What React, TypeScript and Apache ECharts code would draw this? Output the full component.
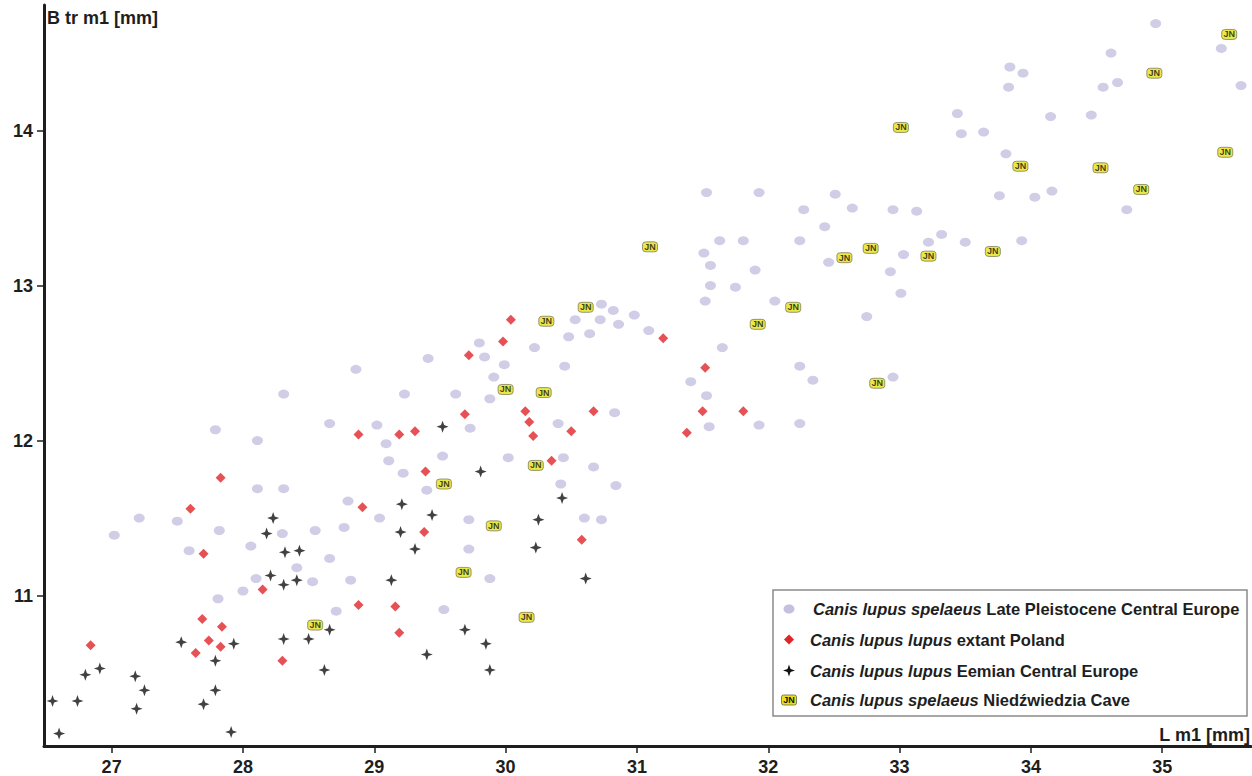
import React, { useEffect, useRef } from "react";
import * as echarts from "echarts";

// ---- axis ticks / extents ----
const xTicks = [27, 28, 29, 30, 31, 32, 33, 34, 35];
const yTicks = [11, 12, 13, 14];
const xMin = 26.485;
const xMax = 35.676;
const yMin = 10.03;
const yMax = 14.81;

const xTitle = "L m1 [mm]";
const yTitle = "B tr m1 [mm]";

// ---- series names ----
const names = [
  "Canis lupus spelaeus Late Pleistocene Central Europe",
  "Canis lupus lupus extant Poland",
  "Canis lupus lupus Eemian Central Europe",
  "Canis lupus spelaeus Niedźwiedzia Cave",
];

// ---- data: [L m1, B tr m1] ----
const spelaeusCE: number[][] = [
  [28.31, 12.3], [29.23, 12.3], [27.79, 12.07], [28.66, 12.11], [29.02, 12.1], [28.11, 12.0],
  [29.09, 11.98], [29.11, 11.87], [29.22, 11.79], [29.4, 11.68], [28.11, 11.69], [28.31, 11.69],
  [28.8, 11.61], [29.04, 11.5], [27.21, 11.5], [27.5, 11.48], [27.82, 11.42], [27.02, 11.39],
  [28.3, 11.4], [28.55, 11.42], [28.77, 11.44], [27.59, 11.29], [28.06, 11.32], [28.66, 11.24],
  [28.41, 11.18], [28.1, 11.11], [28.53, 11.09], [28.82, 11.1], [28.0, 11.03], [27.81, 10.98],
  [28.71, 10.9],
  [29.62, 12.3], [29.88, 12.27], [29.73, 12.08], [30.4, 12.11], [30.83, 12.18], [31.41, 12.38],
  [31.53, 12.29], [31.55, 12.09], [31.93, 12.1], [32.24, 12.11], [32.34, 12.39], [29.52, 11.9],
  [30.02, 11.89], [30.44, 11.89], [30.67, 11.83], [30.42, 11.72], [30.84, 11.71], [29.72, 11.49],
  [30.6, 11.5], [30.73, 11.49], [29.72, 11.3], [29.88, 11.11], [29.53, 10.91],
  [30.73, 12.88], [30.82, 12.84], [30.98, 12.81], [30.53, 12.78], [30.72, 12.78], [30.86, 12.75],
  [30.48, 12.67], [30.64, 12.69], [29.8, 12.63], [30.22, 12.6], [29.41, 12.53], [29.84, 12.54],
  [29.99, 12.49], [30.45, 12.48], [28.86, 12.46], [29.91, 12.41],
  [31.53, 13.6], [31.93, 13.6], [32.51, 13.59], [32.27, 13.49], [32.43, 13.38], [31.63, 13.29],
  [31.81, 13.29], [32.24, 13.29], [31.51, 13.21], [31.56, 13.13], [31.9, 13.1], [32.46, 13.15],
  [31.56, 13.0], [31.75, 12.99], [31.52, 12.9], [32.05, 12.9], [31.09, 12.71], [31.65, 12.6],
  [32.24, 12.48],
  [34.95, 14.69], [35.45, 14.53], [34.61, 14.5], [33.84, 14.41], [33.94, 14.37], [33.83, 14.28],
  [34.55, 14.28], [34.66, 14.31], [35.6, 14.29], [33.44, 14.11], [33.47, 13.98], [33.64, 13.99],
  [34.15, 14.09], [34.46, 14.1], [33.81, 13.85], [33.76, 13.58], [34.03, 13.57], [34.16, 13.61],
  [34.73, 13.49], [32.64, 13.5], [32.95, 13.49], [33.13, 13.48], [33.32, 13.33], [33.22, 13.28],
  [33.5, 13.28], [33.93, 13.29], [33.03, 13.2], [32.93, 13.09], [33.01, 12.95], [32.75, 12.8],
  [32.95, 12.41],
];

const lupusPoland: number[][] = [
  [28.88, 12.04], [29.19, 12.04], [29.31, 12.06], [29.39, 11.8], [27.83, 11.76], [27.6, 11.56],
  [28.91, 11.57], [29.38, 11.41], [27.7, 11.27], [28.15, 11.04], [28.88, 10.94], [29.16, 10.93],
  [27.69, 10.85], [29.19, 10.76], [27.84, 10.8], [26.84, 10.68], [27.74, 10.71], [27.83, 10.67],
  [27.64, 10.63], [28.3, 10.58],
  [29.69, 12.17], [30.15, 12.19], [30.18, 12.12], [30.21, 12.03], [30.67, 12.19], [30.5, 12.06],
  [31.5, 12.19], [31.81, 12.19], [31.38, 12.05], [30.35, 11.87], [30.58, 11.36],
  [30.04, 12.78], [29.98, 12.64], [29.72, 12.55], [31.2, 12.66], [31.52, 12.47],
];

const lupusEemian: number[][] = [
  [29.21, 11.59], [29.44, 11.52], [28.23, 11.5], [28.18, 11.4], [29.2, 11.41], [29.31, 11.3],
  [28.32, 11.28], [28.43, 11.29], [28.21, 11.13], [28.31, 11.07], [28.41, 11.1], [29.13, 11.1],
  [28.66, 10.78], [28.31, 10.72], [28.5, 10.72], [27.53, 10.7], [27.93, 10.69], [27.79, 10.58],
  [26.91, 10.53], [26.8, 10.49], [27.18, 10.48], [27.25, 10.39], [27.79, 10.39], [29.4, 10.62],
  [28.62, 10.52], [26.55, 10.32], [26.74, 10.32], [27.19, 10.27], [27.7, 10.3], [26.6, 10.11],
  [27.91, 10.12],
  [29.52, 12.09], [29.81, 11.8], [30.43, 11.63], [30.25, 11.49], [30.23, 11.31], [30.61, 11.11],
  [29.69, 10.78], [29.85, 10.69], [29.88, 10.52],
];

const spelaeusJN: number[][] = [
  [28.55, 10.81], [30.0, 12.33], [30.29, 12.31], [29.53, 11.72], [30.23, 11.84], [29.91, 11.45],
  [29.68, 11.15], [30.16, 10.86], [30.61, 12.86], [30.31, 12.77], [31.1, 13.25], [32.19, 12.86],
  [31.92, 12.75], [35.51, 14.62], [34.94, 14.37], [33.01, 14.02], [35.48, 13.86], [33.92, 13.77],
  [34.53, 13.76], [34.84, 13.62], [32.78, 13.24], [32.58, 13.18], [33.22, 13.19], [33.71, 13.22],
  [32.83, 12.37],
];

const FONT = "'Liberation Sans', Arial, Helvetica, sans-serif";
const INK = "#1e1e1e";
const LAV = "#c4c0e0";
const RED = "#e0252a";
const YEL = "#e6e11c";
const CROSS =
  "path://M0,-10 L2.6,-2.6 L10,0 L2.6,2.6 L0,10 L-2.6,2.6 L-10,0 L-2.6,-2.6 Z";

function legendRow(y: number, textX: number, italic: string, rest: string) {
  return {
    type: "text",
    x: textX,
    y,
    style: {
      text: `{i|${italic}} {n|${rest}}`,
      textVerticalAlign: "middle",
      fill: INK,
      font: `bold 16.5px ${FONT}`,
      rich: {
        i: { fontStyle: "italic", fontWeight: "bold", fontSize: 16.5, fontFamily: FONT, fill: INK },
        n: { fontWeight: "bold", fontSize: 16.5, fontFamily: FONT, fill: INK },
      },
    },
  };
}

export default function App() {
  const ref = useRef<HTMLDivElement>(null);

  useEffect(() => {
    if (!ref.current) return;
    const chart = echarts.init(ref.current, null, { renderer: "svg" });
    const cx = 789;
    const r1 = 609, r2 = 639.5, r3 = 670.5, r4 = 700;
    chart.setOption({
      animation: false,
      backgroundColor: "#ffffff",
      grid: { left: 44, right: 1, top: 5, bottom: 28, containLabel: false },
      xAxis: {
        type: "value",
        min: xMin,
        max: xMax,
        splitLine: { show: false },
        axisLine: { show: true, onZero: false, lineStyle: { color: INK, width: 3 } },
        axisTick: { show: true, length: 7, customValues: xTicks, lineStyle: { color: INK, width: 1.5 } },
        axisLabel: {
          customValues: xTicks,
          margin: 12,
          color: INK,
          fontSize: 18,
          fontWeight: "bold",
          fontFamily: FONT,
        },
      },
      yAxis: {
        type: "value",
        min: yMin,
        max: yMax,
        splitLine: { show: false },
        axisLine: { show: true, onZero: false, lineStyle: { color: INK, width: 3 } },
        axisTick: { show: true, length: 7, customValues: yTicks, lineStyle: { color: INK, width: 1.5 } },
        axisLabel: {
          customValues: yTicks,
          margin: 11,
          color: INK,
          fontSize: 18,
          fontWeight: "bold",
          fontFamily: FONT,
        },
      },
      series: [
        {
          name: names[0],
          type: "scatter",
          data: spelaeusCE,
          symbol: "circle",
          symbolSize: [11, 9],
          itemStyle: { color: LAV },
          z: 2,
        },
        {
          name: names[1],
          type: "scatter",
          data: lupusPoland,
          symbol: "diamond",
          symbolSize: [10, 10],
          itemStyle: { color: RED },
          z: 3,
        },
        {
          name: names[2],
          type: "scatter",
          data: lupusEemian,
          symbol: CROSS,
          symbolSize: 12,
          itemStyle: { color: "#111111" },
          z: 4,
        },
        {
          name: names[3],
          type: "scatter",
          data: spelaeusJN,
          symbol: "roundRect",
          symbolSize: [15, 10],
          itemStyle: { color: YEL, borderColor: "#66664a", borderWidth: 0.8 },
          label: {
            show: true,
            position: "inside",
            formatter: "JN",
            fontSize: 9,
            fontWeight: "bold",
            fontFamily: FONT,
            color: "#111111",
          },
          z: 5,
        },
      ],
      graphic: [
        {
          type: "text",
          x: 47,
          y: 18,
          style: {
            text: yTitle,
            textVerticalAlign: "middle",
            fill: INK,
            font: `bold 18px ${FONT}`,
          },
        },
        {
          type: "text",
          x: 1250,
          y: 735,
          style: {
            text: xTitle,
            textAlign: "right",
            textVerticalAlign: "middle",
            fill: INK,
            font: `bold 18px ${FONT}`,
          },
        },
        {
          type: "rect",
          shape: { x: 773, y: 590, width: 474, height: 126 },
          style: { fill: "#ffffff", stroke: "#8a8a8a", lineWidth: 1.5 },
          z: 100,
        },
        {
          type: "ellipse",
          shape: { cx, cy: r1, rx: 5.5, ry: 4.5 },
          style: { fill: LAV },
          z: 101,
        },
        {
          type: "polygon",
          shape: { points: [[cx, r2 - 5], [cx + 5, r2], [cx, r2 + 5], [cx - 5, r2]] },
          style: { fill: RED },
          z: 101,
        },
        {
          type: "polygon",
          shape: {
            points: [
              [cx, r3 - 6], [cx + 1.5, r3 - 1.5], [cx + 6, r3], [cx + 1.5, r3 + 1.5],
              [cx, r3 + 6], [cx - 1.5, r3 + 1.5], [cx - 6, r3], [cx - 1.5, r3 - 1.5],
            ],
          },
          style: { fill: "#111111" },
          z: 101,
        },
        {
          type: "rect",
          shape: { x: cx - 7.5, y: r4 - 5, width: 15, height: 10, r: 2 },
          style: { fill: YEL, stroke: "#66664a", lineWidth: 0.8 },
          z: 101,
        },
        {
          type: "text",
          x: cx,
          y: r4,
          style: {
            text: "JN",
            textAlign: "center",
            textVerticalAlign: "middle",
            fill: "#111111",
            font: `bold 9px ${FONT}`,
          },
          z: 102,
        },
        { ...legendRow(r1, 813, "Canis lupus spelaeus", "Late Pleistocene Central Europe"), z: 101 },
        { ...legendRow(r2, 810, "Canis lupus lupus", "extant Poland"), z: 101 },
        { ...legendRow(r3, 810, "Canis lupus lupus", "Eemian Central Europe"), z: 101 },
        { ...legendRow(r4, 810, "Canis lupus spelaeus", "Niedźwiedzia Cave"), z: 101 },
      ],
    });
    return () => chart.dispose();
  }, []);

  return (
    <div
      ref={ref}
      style={{ position: "fixed", left: 0, top: 0, width: 1252, height: 776, background: "#ffffff" }}
    />
  );
}
